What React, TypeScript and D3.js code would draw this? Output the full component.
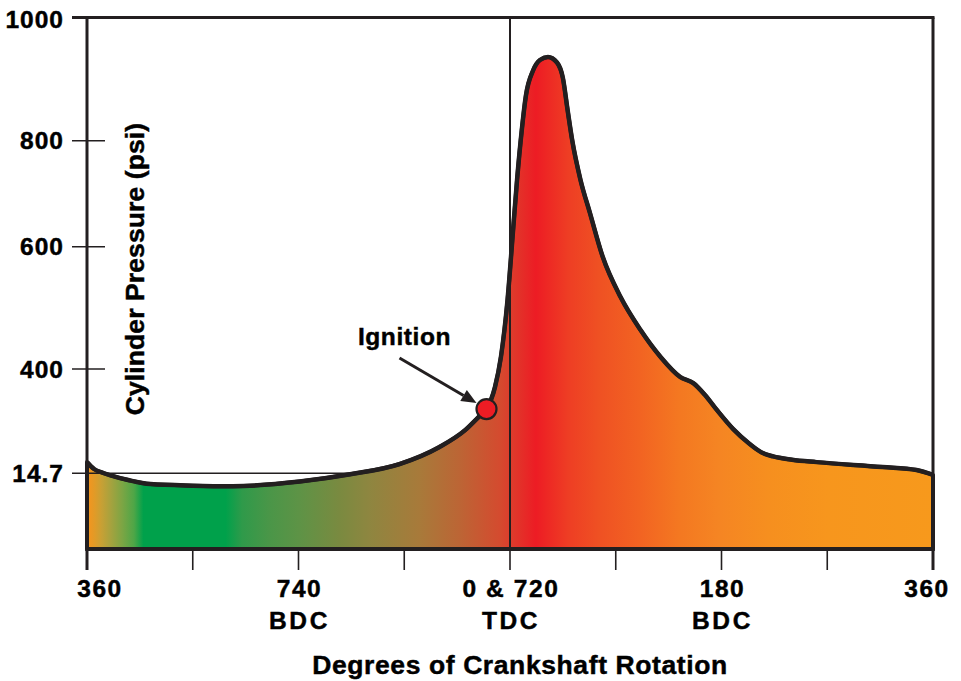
import React from "react";
import * as d3 from "d3";

// ---- data ----
const crankAngles = [
  360, 366, 374, 380, 395, 414, 450, 484, 541, 584, 626, 660, 682, 694, 700,
  707.2, 712.3, 717.9, 722.6, 726, 730, 733.6, 739.6, 745.5, 752.3, 760, 765,
  769, 773, 780, 788, 799, 814, 831, 848, 865, 876, 886, 896, 910, 924, 934,
  944, 960, 981, 1037, 1066, 1080,
];
const pressures = [
  56, 30.6, 15.8, 14.3, 13.4, 12.6, 12.3, 12.2, 13.1, 14.5, 49, 112, 175, 226,
  252, 333, 420, 513, 631, 726, 817, 874, 914, 931, 936, 927, 902, 850, 800,
  726, 664, 583, 518, 464, 420, 370, 348, 304, 249, 178, 123, 92, 77, 65, 56,
  38, 27, 14.4,
];

const yTickValues = [1000, 800, 600, 400, 14.7];
const yTickLabels = ["1000", "800", "600", "400", "14.7"];
const xTickValues = [360, 450, 540, 630, 720, 810, 900, 990, 1080];
const xLabelValues = [360, 540, 720, 900, 1080];
const xLabelLine1 = ["360", "740", "0 & 720", "180", "360"];
const xLabelLine2 = ["", "BDC", "TDC", "BDC", ""];

const ignitionAngle = 700;
const ignitionPressure = 252;
const atmospheric = 14.7;
const tdcAngle = 720;

const gradientAngles = [
  360, 366, 372, 380, 390, 400, 408, 478, 492, 515, 541, 575, 600, 643, 677,
  711, 720, 742, 770, 796, 830, 864, 898, 940, 990, 1080,
];
const gradientColors = [
  "#F7941D", "#E39A26", "#C9A034", "#A7A23E", "#7CA544", "#4EA647", "#00A14B",
  "#00A14B", "#2F9A4A", "#4A9648", "#5E9346", "#7A8A40", "#8E8640", "#A87A3A",
  "#BC6535", "#D44B2F", "#DD3D2C", "#ED1C24", "#EE3E24", "#EF5123", "#F26322",
  "#F47821", "#F58523", "#F68F1F", "#F7961D", "#F7991C",
];

const INK = "#231F20";
const FONT = "'Liberation Sans', Arial, Helvetica, sans-serif";

export default function App() {
  const width = 961;
  const height = 681;
  const left = 87;
  const right = 933;
  const top = 17.5;
  const bottom = 549;

  const x = d3.scaleLinear().domain([360, 1080]).range([left, right]);
  // piecewise (illustrative, non-uniform) pressure axis
  const y = d3
    .scaleLinear()
    .domain([0, 14.7, 400, 600, 800, 1000])
    .range([bottom, 473.3, 369, 246.7, 140.7, top]);

  const pts: [number, number][] = crankAngles.map((a, i) => [a, pressures[i]]);

  const area = d3
    .area<[number, number]>()
    .x((d) => x(d[0]))
    .y0(bottom)
    .y1((d) => y(d[1]))
    .curve(d3.curveMonotoneX);

  const line = d3
    .line<[number, number]>()
    .x((d) => x(d[0]))
    .y((d) => y(d[1]))
    .curve(d3.curveMonotoneX);

  const areaPath = area(pts) || "";
  const linePath = line(pts) || "";

  const ix = x(ignitionAngle);
  const iy = y(ignitionPressure);
  const tipX = ix - 10;
  const tipY = iy - 6;
  const tailX = ix - 87;
  const tailY = iy - 51;
  const ang = Math.atan2(tipY - tailY, tipX - tailX);
  const headLen = 15;
  const headW = 6.5;
  const baseX = tipX - headLen * Math.cos(ang);
  const baseY = tipY - headLen * Math.sin(ang);
  const head = [
    [tipX, tipY],
    [baseX + headW * Math.sin(ang), baseY - headW * Math.cos(ang)],
    [baseX - headW * Math.sin(ang), baseY + headW * Math.cos(ang)],
  ]
    .map((p) => p.join(","))
    .join(" ");

  const textProps = {
    fontFamily: FONT,
    fontWeight: "bold" as const,
    fill: "#000",
    stroke: "#000",
    strokeWidth: 0.45,
  };

  return (
    <div style={{ position: "absolute", left: 0, top: 0, background: "#fff" }}>
      <svg width={width} height={height} style={{ display: "block" }}>
        <defs>
          <linearGradient
            id="heat"
            gradientUnits="userSpaceOnUse"
            x1={x(360)}
            x2={x(1080)}
            y1={0}
            y2={0}
          >
            {gradientAngles.map((a, i) => (
              <stop
                key={i}
                offset={(x(a) - x(360)) / (x(1080) - x(360))}
                stopColor={gradientColors[i]}
              />
            ))}
          </linearGradient>
        </defs>
        <rect x={0} y={0} width={width} height={height} fill="#fff" />

        {/* atmospheric reference line */}
        <line
          x1={left}
          x2={right}
          y1={y(atmospheric)}
          y2={y(atmospheric)}
          stroke={INK}
          strokeWidth={1.5}
        />

        {/* filled pressure area */}
        <path d={areaPath} fill="url(#heat)" stroke={INK} strokeWidth={4} strokeLinejoin="round" />
        <path d={linePath} fill="none" stroke={INK} strokeWidth={4.5} strokeLinejoin="round" />

        {/* TDC line */}
        <line x1={x(tdcAngle)} x2={x(tdcAngle)} y1={top} y2={bottom} stroke={INK} strokeWidth={2} />

        {/* frame */}
        <line x1={72} x2={right + 1.5} y1={top} y2={top} stroke={INK} strokeWidth={3} />
        <line x1={right} x2={right} y1={top} y2={bottom + 2} stroke={INK} strokeWidth={3} />
        <line x1={left} x2={left} y1={top} y2={bottom + 2} stroke={INK} strokeWidth={3} />
        <line x1={left - 1.5} x2={right + 1.5} y1={bottom} y2={bottom} stroke={INK} strokeWidth={4} />

        {/* y ticks */}
        {yTickValues.map((v, i) => (
          <g key={"yt" + i}>
            {v !== 1000 && (
              <line x1={72} x2={105} y1={y(v)} y2={y(v)} stroke={INK} strokeWidth={1.5} />
            )}
            <text
              {...textProps}
              x={64}
              y={Math.max(y(v) + 8.5, 28)}
              textAnchor="end"
              fontSize={24.5}
              letterSpacing={1}
            >
              {yTickLabels[i]}
            </text>
          </g>
        ))}

        {/* x ticks */}
        {xTickValues.map((v, i) => (
          <line
            key={"xt" + i}
            x1={x(v)}
            x2={x(v)}
            y1={bottom}
            y2={570}
            stroke={INK}
            strokeWidth={i === 0 || i === xTickValues.length - 1 ? 3 : 1.6}
          />
        ))}
        {xLabelValues.map((v, i) => {
          const first = i === 0;
          const last = i === xLabelValues.length - 1;
          const tx = first ? x(v) + 13 : last ? x(v) - 6 : x(v) + 1;
          return (
            <g key={"xl" + i}>
              <text {...textProps} x={tx} y={597} textAnchor="middle" fontSize={24.5} letterSpacing={1.6}>
                {xLabelLine1[i].replace(/ /g, "\u00a0")}
              </text>
              {xLabelLine2[i] && (
                <text {...textProps} x={tx} y={629} textAnchor="middle" fontSize={24.5} letterSpacing={2.6}>
                  {xLabelLine2[i]}
                </text>
              )}
            </g>
          );
        })}

        {/* axis titles */}
        <text {...textProps} x={520} y={674} textAnchor="middle" fontSize={26.5} letterSpacing={0.6}>
          Degrees of Crankshaft Rotation
        </text>
        <text
          {...textProps}
          transform="translate(144,269) rotate(-90)"
          textAnchor="middle"
          fontSize={26.5}
          letterSpacing={0.1}
        >
          Cylinder Pressure (psi)
        </text>

        {/* ignition annotation */}
        <line x1={tailX} y1={tailY} x2={baseX} y2={baseY} stroke={INK} strokeWidth={3} />
        <polygon points={head} fill={INK} />
        <circle cx={ix} cy={iy} r={10} fill="#ED1C24" stroke={INK} strokeWidth={2.2} />
        <text {...textProps} x={ix - 82} y={iy - 64} textAnchor="middle" fontSize={24.5} letterSpacing={0.6}>
          Ignition
        </text>
      </svg>
    </div>
  );
}
